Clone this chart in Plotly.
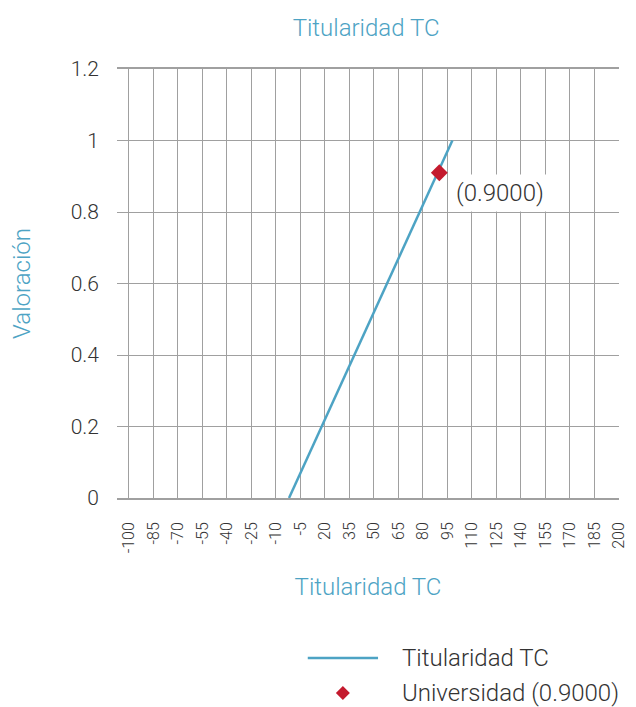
import plotly.graph_objects as go

# data
linea_x = [-2, 98]
linea_y = [0, 1]
univ_x = [90]
univ_y = [0.91]
univ_label = "(0.9000)"
x_ticks = [-100, -85, -70, -55, -40, -25, -10, 5, 20, 35, 50, 65, 80, 95, 110, 125, 140, 155, 170, 185, 200]
x_ticktext = ["-100", "-85", "-70", "-55", "-40", "-25", "-10", "-5", "20", "35", "50", "65", "80", "95",
              "110", "125", "140", "155", "170", "185", "200"]
y_ticks = [0, 0.2, 0.4, 0.6, 0.8, 1, 1.2]

azul = "#4da3c4"
rojo = "#c41a2e"
gris = "#a0a0a0"
texto = "#333333"
fuente = "Roboto"

fig = go.Figure()
fig.add_trace(go.Scatter(x=linea_x, y=linea_y, mode="lines", name="Titularidad TC",
                         line=dict(color=azul, width=2.5), showlegend=False))
fig.add_trace(go.Scatter(x=univ_x, y=univ_y, mode="markers", name="Universidad (0.9000)",
                         marker=dict(symbol="diamond", color=rojo, size=13), showlegend=False))

# value label with white box
fig.add_annotation(x=univ_x[0], y=univ_y[0], text=univ_label, showarrow=False,
                   xanchor="left", yanchor="middle", xshift=12, yshift=-20,
                   font=dict(family=fuente, size=24, color=texto, weight=300),
                   bgcolor="white", borderpad=4)

# hand-made legend (longer line sample like the original)
fig.add_shape(type="line", xref="paper", yref="paper", x0=0.380, x1=0.520, y0=-0.373, y1=-0.373,
              line=dict(color=azul, width=2.5))
fig.add_shape(type="path", xref="paper", yref="paper", xsizemode="pixel", ysizemode="pixel",
              xanchor=0.450, yanchor=-0.4545, path="M 0,7 L 7,0 L 0,-7 L -7,0 Z",
              fillcolor=rojo, line=dict(width=0))
fig.add_annotation(xref="paper", yref="paper", x=0.563, y=-0.373, text="Titularidad TC",
                   showarrow=False, xanchor="left", yanchor="middle",
                   font=dict(family=fuente, size=24, color=texto, weight=300))
fig.add_annotation(xref="paper", yref="paper", x=0.563, y=-0.4545, text="Universidad (0.9000)",
                   showarrow=False, xanchor="left", yanchor="middle",
                   font=dict(family=fuente, size=24, color=texto, weight=300))

fig.update_layout(
    width=636, height=707,
    margin=dict(l=109, r=25, t=61, b=217),
    paper_bgcolor="white", plot_bgcolor="white",
    font=dict(family=fuente, color=texto),
    title=dict(text="Titularidad TC", x=0.563, xanchor="center", y=0.972, yanchor="middle",
               font=dict(family=fuente, size=24, color=azul, weight=300)),
    showlegend=False,
)
fig.update_xaxes(range=[-107.3, 200], tickmode="array", tickvals=x_ticks, ticktext=x_ticktext,
                 tickangle=-90, ticklabelstandoff=16, tickfont=dict(size=16, color=texto, weight=300),
                 showgrid=True, gridcolor=gris, gridwidth=1, zeroline=False,
                 showline=True, linecolor=gris, linewidth=1.5, mirror=True,
                 title=dict(text="Titularidad TC", font=dict(size=24, color=azul, weight=300), standoff=26))
fig.update_yaxes(range=[0, 1.2], tickmode="array", tickvals=y_ticks,
                 ticklabelstandoff=17, tickfont=dict(size=21, color=texto, weight=300),
                 showgrid=True, gridcolor=gris, gridwidth=1, zeroline=False, showline=False,
                 title=dict(text="Valoración", font=dict(size=24, color=azul, weight=300), standoff=35))

fig.write_html("out.html")
